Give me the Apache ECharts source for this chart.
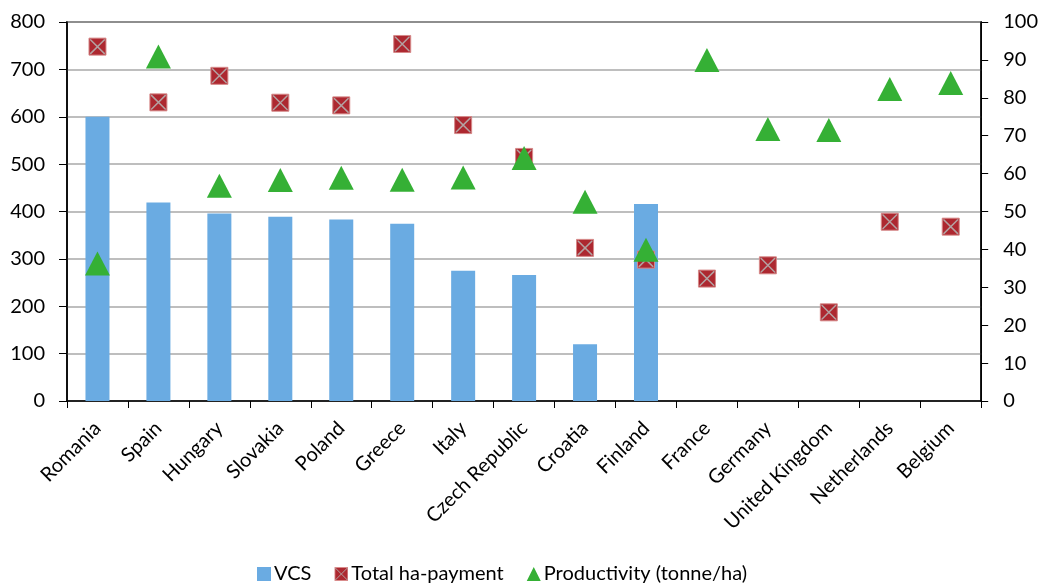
<!DOCTYPE html>
<html>
<head>
<meta charset="utf-8">
<script src="https://cdn.jsdelivr.net/npm/echarts@6/dist/echarts.min.js"></script>
<style>
  html, body { margin: 0; padding: 0; background: #fff; }
  #chart { width: 1041px; height: 585px; }
</style>
</head>
<body>
<div id="chart"></div>
<script>
// Countries on the category axis
const countries = ['Romania', 'Spain', 'Hungary', 'Slovakia', 'Poland', 'Greece', 'Italy',
  'Czech Republic', 'Croatia', 'Finland', 'France', 'Germany', 'United Kingdom', 'Netherlands', 'Belgium'];

// VCS (left axis)
const vcs = [600, 419, 396, 389, 383, 374, 275, 266, 120, 416, null, null, null, null, null];

// Total ha-payment (right axis)
const haPayment = [93.5, 78.8, 85.8, 78.7, 78.0, 94.2, 72.8, 64.4, 40.4, 37.3, 32.3, 35.8, 23.4, 47.3, 46.0];

// Productivity in tonne/ha (right axis)
const productivity = [36.3, 90.9, 56.8, 58.3, 58.9, 58.4, 59.0, 64.1, 52.6, 39.9, 90.0, 71.8, 71.5, 82.3, 83.9];

// Axis ticks
const leftTicks = { min: 0, max: 800, step: 100 };
const rightTicks = { min: 0, max: 100, step: 10 };

const FONT = 'Lato, "Noto Sans", sans-serif';
const RED = '#AD2830';
const GREEN = '#35B035';
const BLUE = '#6AABE2';

// Thin diagonal cross drawn over each square marker
const crossPath = 'path://M0,0 L0.7,0 L10,9.3 L10,10 L9.3,10 L0,0.7 Z M10,0 L10,0.7 L0.7,10 L0,10 L0,9.3 L9.3,0 Z';
const crossIcon = 'image://data:image/svg+xml;utf8,' + encodeURIComponent(
  '<svg xmlns="http://www.w3.org/2000/svg" width="14" height="14">' +
  '<rect x="0.5" y="0.5" width="13" height="13" fill="' + RED + '" stroke="#d98c8c"/>' +
  '<path d="M1,1 L13,13 M13,1 L1,13" stroke="#b0a0a0" stroke-width="1"/></svg>');

const chart = echarts.init(document.getElementById('chart'));
chart.setOption({
  animation: false,
  textStyle: { fontFamily: FONT },
  grid: { left: 67, right: 58, top: 22, bottom: 184, show: true, borderColor: '#000', borderWidth: 1.5 },
  legend: {
    top: 564,
    left: 257,
    padding: 0,
    itemGap: 23,
    itemWidth: 14,
    itemHeight: 14,
    textStyle: { fontSize: 20, color: '#000', fontFamily: FONT, padding: [0, 0, 0, -2] },
    data: [
      { name: 'VCS', icon: 'rect' },
      { name: 'Total ha-payment', icon: crossIcon },
      { name: 'Productivity (tonne/ha)', icon: 'triangle' }
    ]
  },
  xAxis: {
    type: 'category',
    data: countries,
    boundaryGap: true,
    axisLine: { lineStyle: { color: '#000', width: 1.5 } },
    axisTick: { show: true, alignWithLabel: false, length: 7, lineStyle: { color: '#000' } },
    axisLabel: { rotate: 45, fontSize: 20, color: '#000', margin: 24, interval: 0 },
    splitLine: { show: false }
  },
  yAxis: [
    {
      type: 'value',
      min: leftTicks.min, max: leftTicks.max, interval: leftTicks.step,
      position: 'left',
      axisLine: { show: true, lineStyle: { color: '#000', width: 1.5 } },
      axisTick: { show: true, length: 8, lineStyle: { color: '#000' } },
      axisLabel: { fontSize: 20, color: '#000', margin: 22 },
      splitLine: { show: true, lineStyle: { color: '#a8a8a8', width: 1.5 } }
    },
    {
      type: 'value',
      min: rightTicks.min, max: rightTicks.max, interval: rightTicks.step,
      position: 'right',
      axisLine: { show: true, lineStyle: { color: '#000', width: 1.5 } },
      axisTick: { show: true, length: 7, lineStyle: { color: '#000' } },
      axisLabel: { fontSize: 20, color: '#000', margin: 22 },
      splitLine: { show: false }
    }
  ],
  series: [
    {
      name: 'VCS',
      type: 'bar',
      yAxisIndex: 0,
      data: vcs,
      barWidth: 24,
      itemStyle: { color: BLUE },
      z: 1
    },
    {
      name: 'Total ha-payment',
      type: 'scatter',
      yAxisIndex: 1,
      data: haPayment,
      symbol: 'rect',
      symbolSize: 17,
      itemStyle: { color: RED, borderColor: '#d68a8a', borderWidth: 1, opacity: 1 },
      z: 3
    },
    {
      name: 'Total ha-payment',
      type: 'scatter',
      yAxisIndex: 1,
      data: haPayment,
      symbol: crossPath,
      symbolSize: 15,
      silent: true,
      itemStyle: { color: '#b4a2a2', opacity: 1 },
      z: 4
    },
    {
      name: 'Productivity (tonne/ha)',
      type: 'scatter',
      yAxisIndex: 1,
      data: productivity,
      symbol: 'triangle',
      symbolSize: [25, 24],
      itemStyle: { color: GREEN, opacity: 1 },
      z: 5
    }
  ]
});
</script>
</body>
</html>
